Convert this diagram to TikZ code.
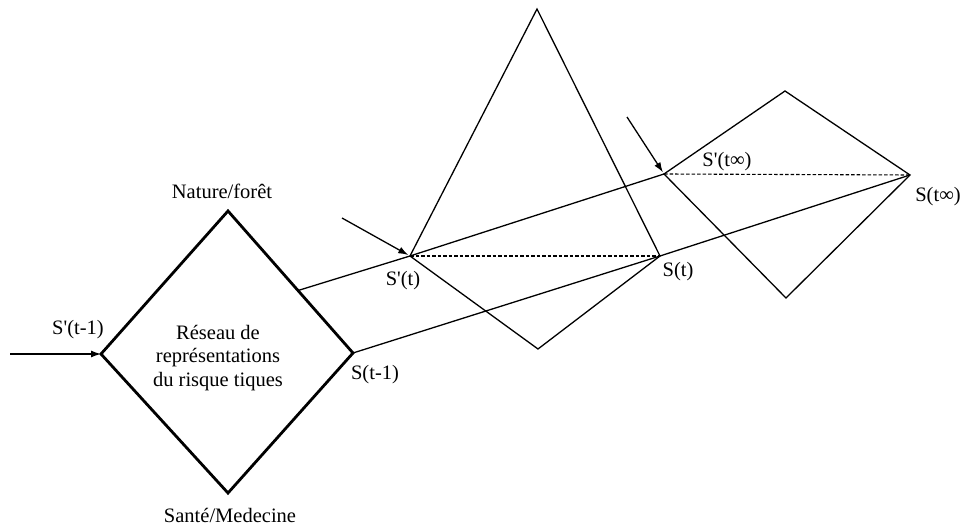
\documentclass[tikz,border=0pt]{standalone}
\usepackage{fontspec}
\setmainfont{Liberation Serif}
\usetikzlibrary{arrows.meta,calc}

\begin{document}
\begin{tikzpicture}[x=1pt, y=-1pt, >={Latex[length=10pt,width=7pt]},
  every node/.style={font=\fontsize{20.5}{23.5}\selectfont, inner sep=0pt},
  edge/.style={line width=1.3pt},
  hidden/.style={line width=1.1pt, dash pattern=on 3.5pt off 2pt}]
\useasboundingbox (0,0) rectangle (964,526);

% network diamond
\coordinate (T1) at (228,211);
\coordinate (R1) at (353,353);
\coordinate (B1) at (228,493);
\coordinate (L1) at (101,354);
\draw[line width=2.8pt, line join=miter] (T1) -- (R1) -- (B1) -- (L1) -- cycle;
\coordinate (E1) at ($(T1)!0.56!(R1)$);

% second kite
\coordinate (T2) at (537,9);
\coordinate (R2) at (660,256);
\coordinate (B2) at (538,349);
\coordinate (L2) at (410,256);
\draw[edge, line join=miter] (T2) -- (R2) -- (B2) -- (L2) -- cycle;
\draw[hidden] (L2) -- (R2);

% third kite
\coordinate (T3) at (785,91);
\coordinate (R3) at (910,175);
\coordinate (B3) at (786,298);
\coordinate (L3) at (664,174);
\draw[edge, line join=miter] (T3) -- (R3) -- (B3) -- (L3) -- cycle;
\draw[hidden] (L3) -- (R3);

% links between states
\draw[edge] (E1) -- (L2) -- (L3);
\draw[edge] (R1) -- (R2) -- (R3);

% inputs
\coordinate (in0) at (10,354);
\coordinate (in1) at (342,218);
\coordinate (in2) at (627,117);
\draw[->, edge] (in0) -- (L1);
\draw[->, edge, shorten >=2pt] (in1) -- (L2);
\draw[->, edge, shorten >=2pt] (in2) -- (L3);

% labels
\node (net) [align=center] at (218,358) {Réseau de\\représentations\\du risque tiques};
\node (nat) at (222,191) {Nature/forêt};
\node (san) at (230,515) {Santé/Medecine};
\node (sp0) at (78,330) {S\textquotesingle(t-1)};
\node (s0) at (375,375) {S(t-1)};
\node (sp1) at (403,281) {S\textquotesingle(t)};
\node (s1) at (678,272) {S(t)};
\node (sp2) at (727,162) {S\textquotesingle(t∞)};
\node (s2) at (938,197) {S(t∞)};
\end{tikzpicture}
\end{document}
